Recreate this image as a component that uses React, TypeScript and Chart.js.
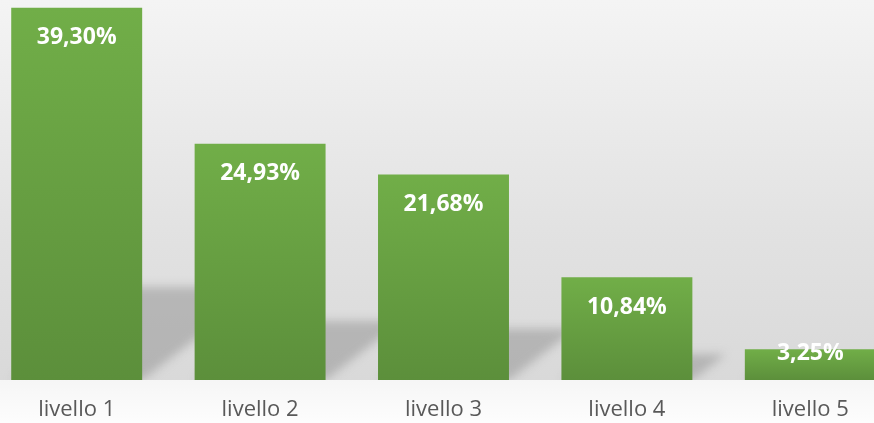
import React, { useEffect, useRef } from "react";
import { Chart, registerables } from "chart.js";

Chart.register(...registerables);

const categories = ["livello 1", "livello 2", "livello 3", "livello 4", "livello 5"];
const values = [39.3, 24.93, 21.68, 10.84, 3.25];
const valueLabels = ["39,30%", "24,93%", "21,68%", "10,84%", "3,25%"];

const backgroundPlugin = {
  id: "bgPlugin",
  beforeDraw(chart: any) {
    const { ctx, width, height, chartArea } = chart;
    if (!chartArea) return;
    const b = chartArea.bottom;
    ctx.save();
    const g = ctx.createLinearGradient(0, 0, 0, b);
    g.addColorStop(0, "#f4f4f4");
    g.addColorStop(0.6, "#e2e2e2");
    g.addColorStop(1, "#d9d9d9");
    ctx.fillStyle = g;
    ctx.fillRect(0, 0, width, b);
    const g2 = ctx.createLinearGradient(0, b, 0, height);
    g2.addColorStop(0, "#f6f6f6");
    g2.addColorStop(1, "#fdfdfd");
    ctx.fillStyle = g2;
    ctx.fillRect(0, b, width, height - b);
    ctx.restore();
  },
};

const shadowPlugin = {
  id: "shadowPlugin",
  beforeDatasetsDraw(chart: any) {
    const { ctx, chartArea } = chart;
    const meta = chart.getDatasetMeta(0);
    ctx.save();
    ctx.beginPath();
    ctx.rect(0, 0, chart.width, chartArea.bottom);
    ctx.clip();
    ctx.filter = "blur(5px)";
    meta.data.forEach((el: any) => {
      const L = el.x - el.width / 2;
      const R = el.x + el.width / 2;
      const B = el.base;
      const h = B - el.y;
      const hs = 0.25 * h;
      const k = 1.3;
      ctx.beginPath();
      ctx.moveTo(L, B);
      ctx.lineTo(R, B);
      ctx.lineTo(R + k * hs, B - hs);
      ctx.lineTo(L + k * hs, B - hs);
      ctx.closePath();
      ctx.fillStyle = "rgba(150,150,150,0.55)";
      ctx.fill();
    });
    ctx.restore();
  },
};

const labelPlugin = {
  id: "labelPlugin",
  afterDatasetsDraw(chart: any) {
    const { ctx } = chart;
    const meta = chart.getDatasetMeta(0);
    ctx.save();
    ctx.fillStyle = "#ffffff";
    ctx.font = "bold 23px 'Open Sans'";
    ctx.textAlign = "center";
    ctx.textBaseline = "middle";
    meta.data.forEach((el: any, i: number) => {
      const y = Math.min(el.y + 30, el.base - 27);
      ctx.fillText(valueLabels[i], el.x, y);
    });
    ctx.restore();
  },
};

export default function App() {
  const ref = useRef<HTMLCanvasElement>(null);
  useEffect(() => {
    if (!ref.current) return;
    const chart = new Chart(ref.current, {
      type: "bar",
      data: {
        labels: categories,
        datasets: [
          {
            data: values,
            backgroundColor: (c: any) => {
              const ch = c.chart;
              const area = ch.chartArea;
              if (!area || c.parsed == null) return "#66a043";
              const ys = ch.scales.y;
              const top = ys.getPixelForValue(c.parsed.y);
              const bot = ys.getPixelForValue(0);
              const g = ch.ctx.createLinearGradient(0, top, 0, bot);
              g.addColorStop(0, "#71ae48");
              g.addColorStop(1, "#5c8f3b");
              return g;
            },
            borderWidth: 0,
            barPercentage: 0.714,
            categoryPercentage: 1,
          },
        ],
      },
      options: {
        animation: false,
        responsive: true,
        maintainAspectRatio: false,
        layout: { padding: { left: 0, right: 0, top: 1, bottom: 0 } },
        plugins: { legend: { display: false }, tooltip: { enabled: false } },
        scales: {
          x: {
            grid: { display: false, drawTicks: false },
            border: { display: false },
            ticks: {
              color: "#595959",
              font: { family: "'Open Sans'", size: 22 },
              padding: 17,
            },
            afterFit(scale: any) {
              scale.height = 43;
            },
          },
          y: {
            display: false,
            min: 0,
            max: 40,
          },
        },
      },
      plugins: [backgroundPlugin, shadowPlugin, labelPlugin],
    });
    return () => chart.destroy();
  }, []);
  return (
    <div style={{ position: "fixed", left: -15, top: 0, width: 917, height: 423 }}>
      <canvas ref={ref} />
    </div>
  );
}
